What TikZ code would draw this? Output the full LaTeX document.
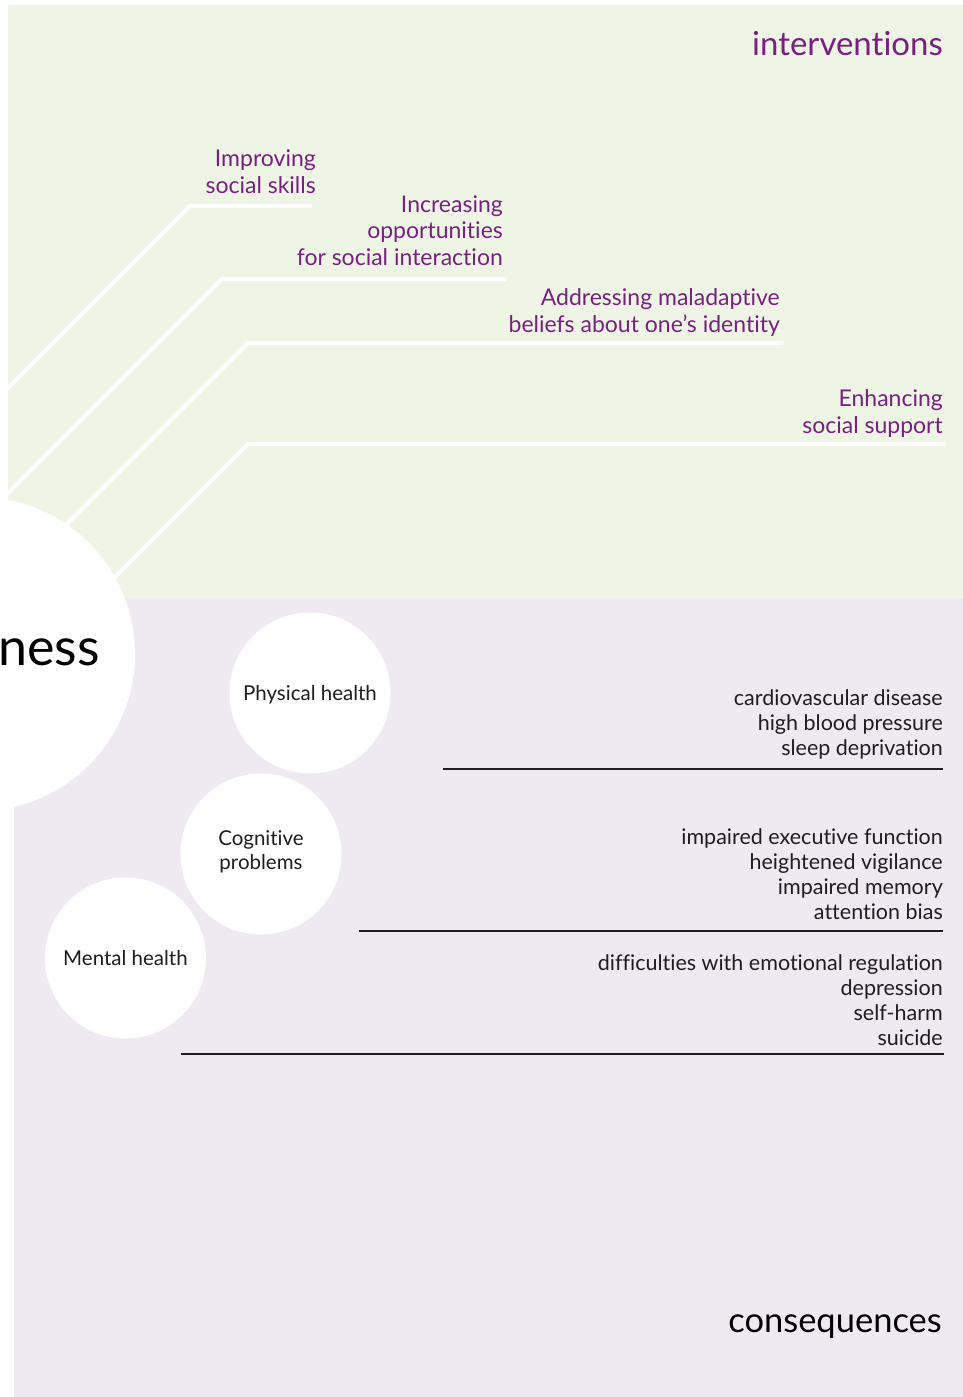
\documentclass[tikz,border=0pt]{standalone}
\usepackage{fontspec}
\setmainfont{Lato}[Ligatures=NoCommon]
\definecolor{greenbg}{RGB}{239,245,228}
\definecolor{purplebg}{RGB}{239,234,242}
\definecolor{plum}{RGB}{122,31,130}
\definecolor{ink}{RGB}{30,30,30}
\tikzset{
  purplelabel/.style={text=plum, font=\fontsize{23}{26.5}\selectfont, align=right, inner sep=0pt, anchor=base east},
  listlabel/.style={text=ink, font=\fontsize{21.5}{25}\selectfont, align=right, inner sep=0pt, anchor=base east},
  circlabel/.style={text=ink, font=\fontsize{20.5}{24}\selectfont, align=center, inner sep=0pt},
  bubble/.style={circle, fill=white, minimum size=161pt, inner sep=0pt},
  whiteline/.style={draw=white, line width=4pt},
  blackline/.style={draw=ink, line width=1.8pt},
  title/.style={text=#1, font=\fontsize{33}{36}\selectfont, inner sep=0pt, anchor=base east}
}
\begin{document}
\begin{tikzpicture}[x=1pt, y=-1pt]
\useasboundingbox (0,0) rectangle (963,1397);
\clip (0,0) rectangle (963,1397);
\fill[white] (0,0) rectangle (963,1397);
% backgrounds
\fill[greenbg] (8,5) rectangle (963,598);
\fill[purplebg] (14,598) rectangle (963,1397);
% white intervention lines
\coordinate (l1a) at (312,206); \coordinate (l1b) at (190,206); \coordinate (l1c) at (-10,406);
\coordinate (l2a) at (506,279); \coordinate (l2b) at (222,279); \coordinate (l2c) at (-10,511);
\coordinate (l3a) at (783,343); \coordinate (l3b) at (248,343); \coordinate (l3c) at (40,551);
\coordinate (l4a) at (946,444); \coordinate (l4b) at (248,444); \coordinate (l4c) at (80,612);
\draw[whiteline] (l1a) -- (l1b) -- (l1c);
\draw[whiteline] (l2a) -- (l2b) -- (l2c);
\draw[whiteline] (l3a) -- (l3b) -- (l3c);
\draw[whiteline] (l4a) -- (l4b) -- (l4c);
% big circle
\node[circle, fill=white, minimum size=314pt, inner sep=0pt] (big) at (-22,654) {};
\node[text=black, font=\fontsize{52}{55}\selectfont, inner sep=0pt, anchor=base east] (ness) at (100,665) {ness};
% titles
\node[title=plum] (interventions) at (943,56) {interventions};
\node[title=black, font=\fontsize{34.5}{37}\selectfont] (consequences) at (942,1332) {consequences};
% intervention labels (anchor = baseline of last line)
\node[purplelabel] (improving) at (316,193) {Improving\\social skills};
\node[purplelabel] (increasing) at (503,265) {Increasing\\opportunities\\for social interaction};
\node[purplelabel] (addressing) at (780,332) {Addressing maladaptive\\beliefs about one’s identity};
\node[purplelabel] (enhancing) at (943,433) {Enhancing\\social support};
% bubbles
\node[bubble] (physical) at (310,693) {};
\node[bubble] (cognitive) at (261,854) {};
\node[bubble] (mental) at (125.5,958) {};
\node[circlabel, anchor=base] (physicalt) at (310,700) {Physical health};
\node[circlabel, anchor=base] (cognitivet) at (261,869) {Cognitive\\problems};
\node[circlabel, anchor=base] (mentalt) at (125.5,965) {Mental health};
% consequence lists
\node[listlabel] (phys) at (943,755) {cardiovascular disease\\high blood pressure\\sleep deprivation};
\node[listlabel] (cog) at (943,919) {impaired executive function\\heightened vigilance\\impaired memory\\attention bias};
\node[listlabel] (ment) at (943,1045) {difficulties with emotional regulation\\depression\\self-harm\\suicide};
% black rules
\coordinate (r1a) at (443,769); \coordinate (r1b) at (943,769);
\coordinate (r2a) at (359,931); \coordinate (r2b) at (943,931);
\coordinate (r3a) at (181,1054); \coordinate (r3b) at (944,1054);
\draw[blackline] (r1a) -- (r1b);
\draw[blackline] (r2a) -- (r2b);
\draw[blackline] (r3a) -- (r3b);
\end{tikzpicture}
\end{document}
